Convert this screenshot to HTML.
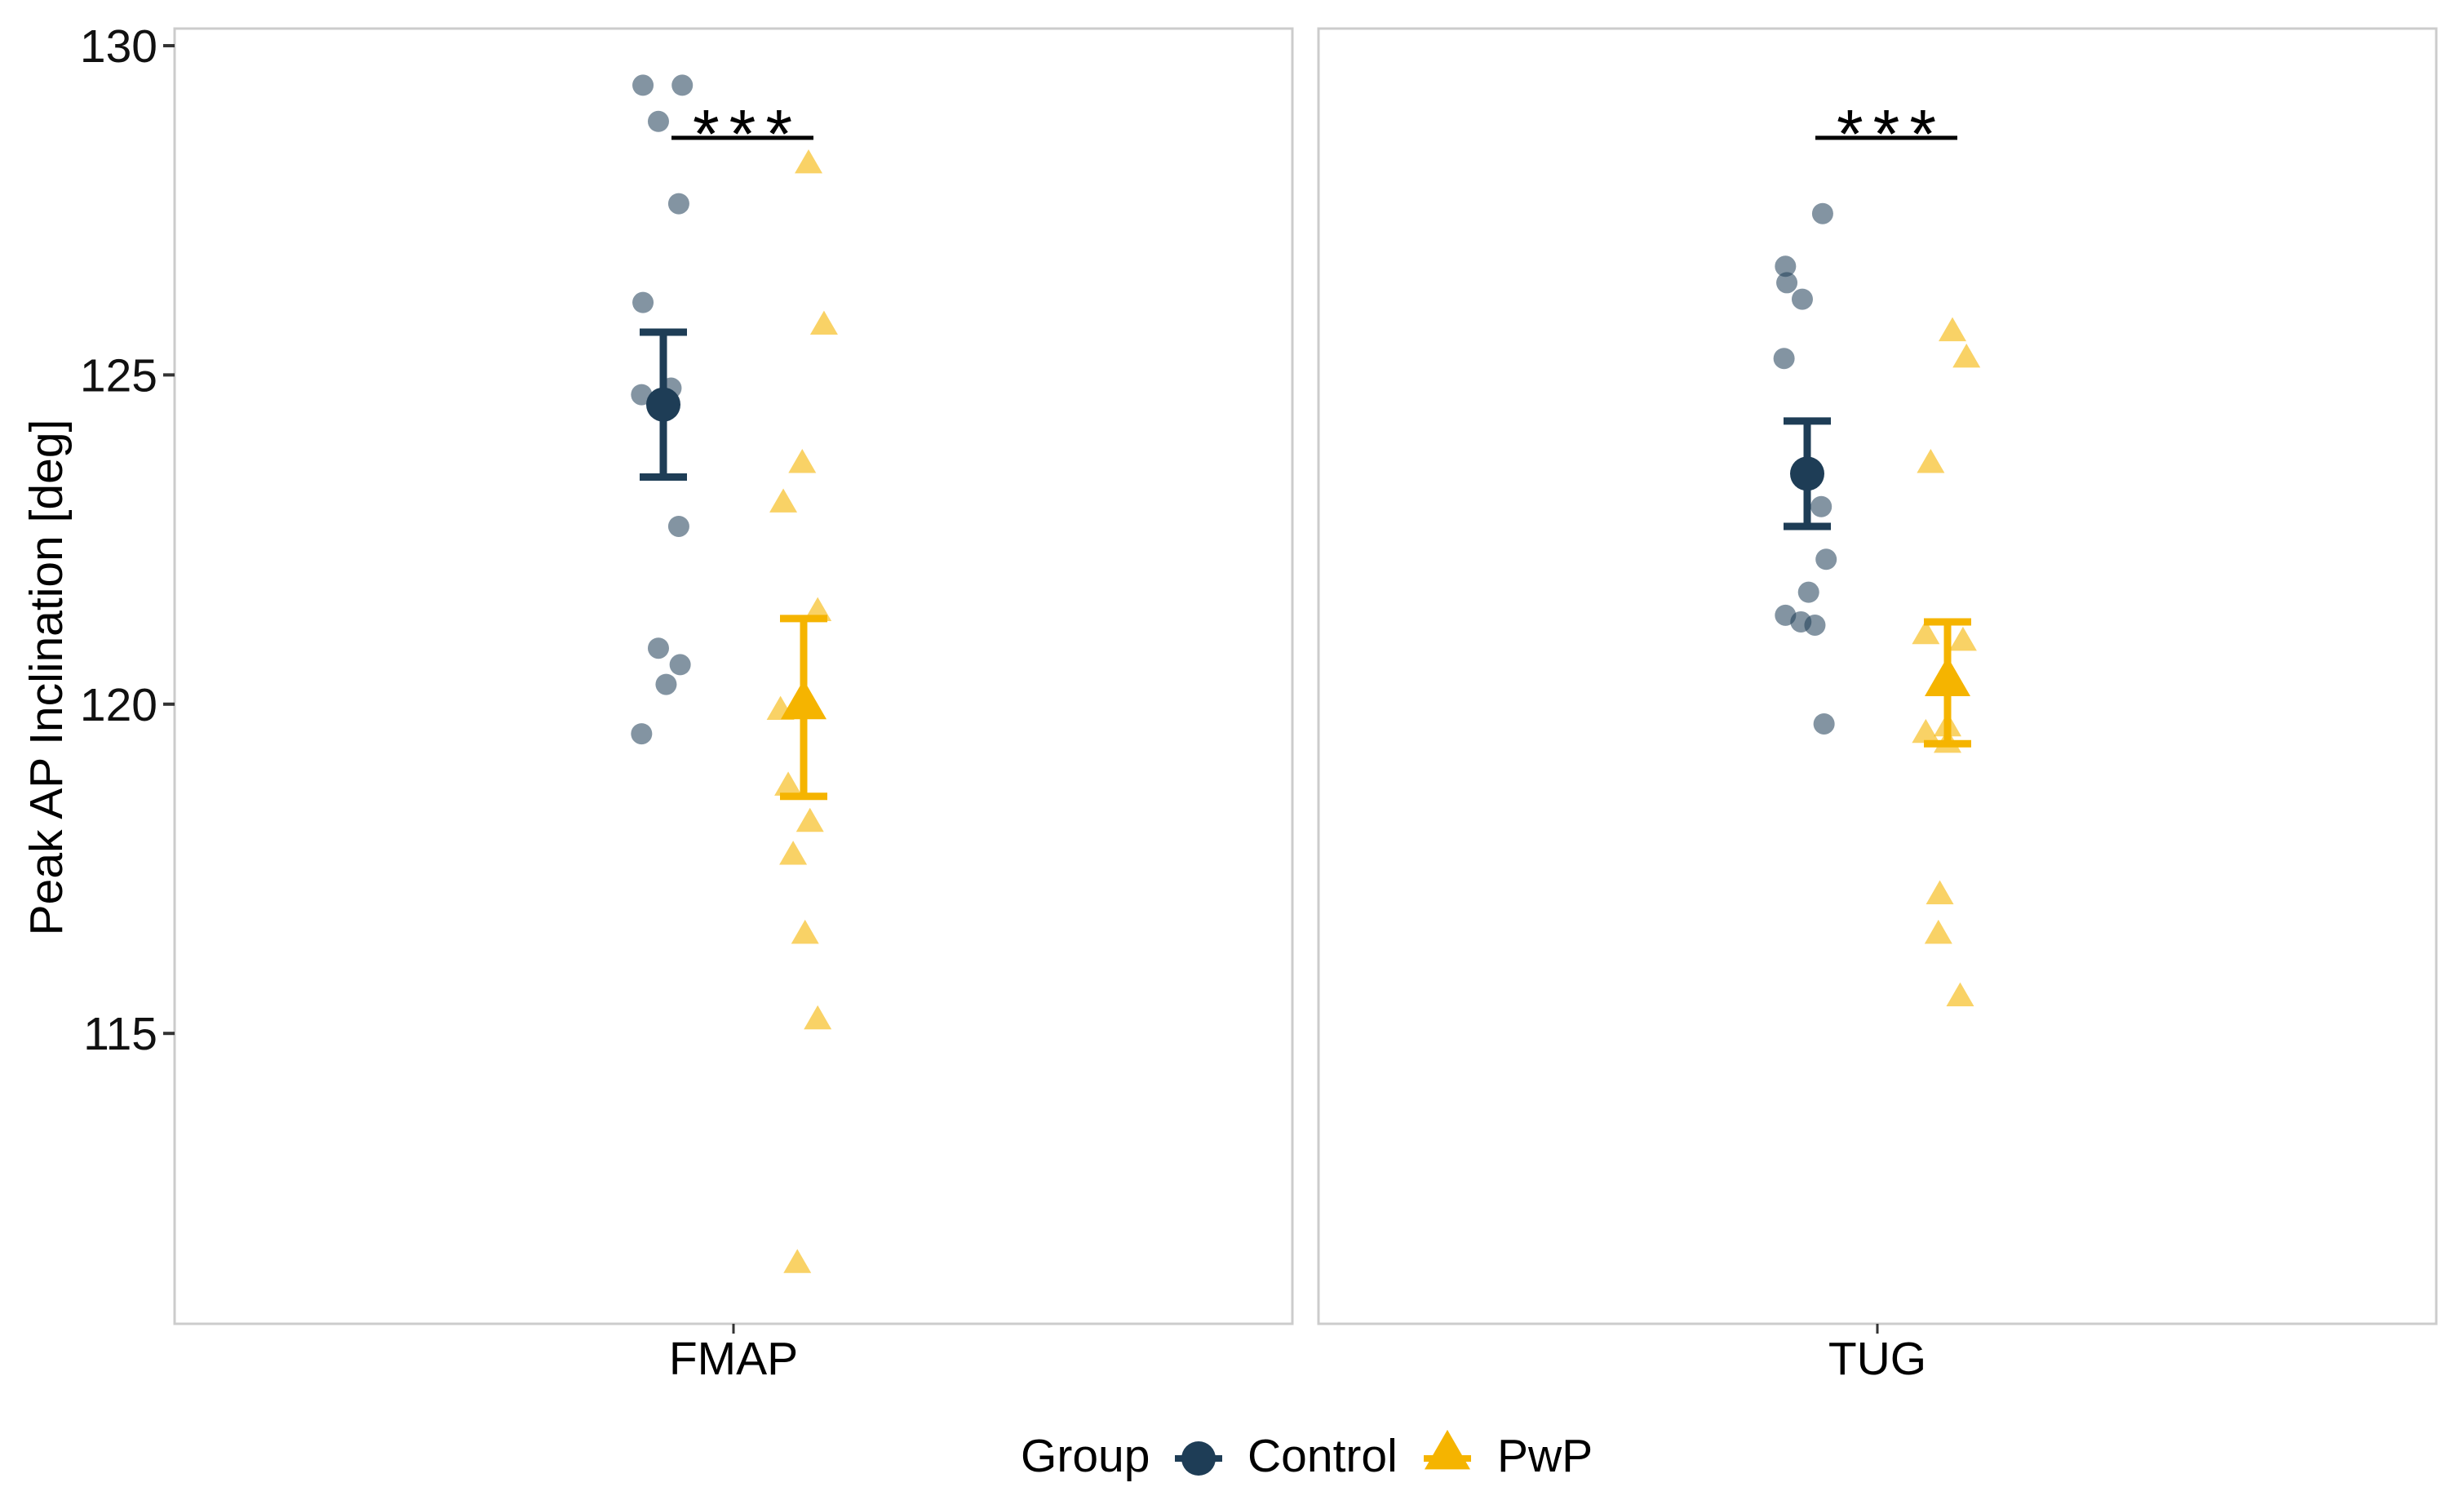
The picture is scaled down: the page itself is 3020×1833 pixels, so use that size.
<!DOCTYPE html>
<html><head><meta charset="utf-8"><style>
html,body{margin:0;padding:0;background:#fff;}
svg{display:block;font-family:"Liberation Sans",Arial,sans-serif;}
</style></head><body>
<svg id="chart" width="3020" height="1833" viewBox="0 0 3020 1833"></svg>
<script>
const panels = ["FMAP", "TUG"];
const groups = ["Control", "PwP"];
const yTicks = [115, 120, 125, 130];
const fmapControl = [129.4,129.4,128.85,127.6,126.1,124.7,124.8,122.7,120.85,120.6,120.3,119.55];
const fmapPwP = [128.2,125.75,123.65,123.05,121.4,119.9,118.75,118.2,117.7,116.5,115.2,111.5];
const tugControl = [127.45,126.65,126.4,126.15,125.25,123.0,122.2,121.7,121.35,121.25,121.2,119.7];
const tugPwP = [125.65,125.25,123.65,121.05,120.95,119.55,119.65,119.4,117.1,116.5,115.55];
const means = [[124.55,120.0],[123.5,120.35]];
const errLow = [[123.45,118.6],[122.7,119.4]];
const errHigh = [[125.65,121.3],[124.3,121.25]];
const sigLabels = ["***","***"];
const sigLevel = [128.6,128.6];
const jitFC = [-0.29,0.27,-0.07,0.22,-0.29,-0.31,0.11,0.22,-0.07,0.24,0.04,-0.31];
const jitFP = [0.07,0.29,-0.02,-0.29,0.2,-0.33,-0.22,0.09,-0.15,0.02,0.2,-0.09];
const jitTC = [0.22,-0.31,-0.29,-0.07,-0.33,0.2,0.27,0.02,-0.31,-0.09,0.11,0.24];
const jitTP = [0.07,0.27,-0.24,-0.31,0.22,-0.31,0.0,0.0,-0.11,-0.13,0.18];

const NS="http://www.w3.org/2000/svg";
const svg=document.getElementById('chart');
const panelX=[214,1616], panelW=1370, topY=35, bottomY=1622;
const yMin=110.59, yMax=130.26;
function yS(v){return bottomY-(v-yMin)/(yMax-yMin)*(bottomY-topY);}
const dodge=86;
function gx(p,g){return panelX[p]+panelW/2+(g===0?-dodge:dodge);}
function mk(tag,attrs){const e=document.createElementNS(NS,tag);for(const k in attrs)e.setAttribute(k,attrs[k]);svg.appendChild(e);return e;}
const navy="#1e3d56", gold="#f5b400";
function tri(cx,cy,s){const h=s*0.866;return `${cx},${cy-h*0.62} ${cx-s/2},${cy+h*0.38} ${cx+s/2},${cy+h*0.38}`;}

panels.forEach((name,p)=>{
  let r=mk('rect',{x:panelX[p],y:topY,width:panelW,height:bottomY-topY,fill:'#fff',stroke:'#cccccc','stroke-width':3});
  
  
  let t=mk('line',{x1:panelX[p]+panelW/2,x2:panelX[p]+panelW/2,y1:bottomY,y2:bottomY+12,stroke:'#333','stroke-width':3});
  
  
  let l=mk('text',{x:panelX[p]+panelW/2,y:1684,'font-size':57,'text-anchor':'middle',fill:'#000'});
  l.textContent=name;
  
  
});
yTicks.forEach(v=>{
  let t=mk('line',{x1:200,x2:214,y1:yS(v),y2:yS(v),stroke:'#333','stroke-width':4});
  
  
  let l=mk('text',{x:193,y:yS(v)+20,'font-size':57,'text-anchor':'end',fill:'#111'});
  l.textContent=v;
  
  
});
let yt=mk('text',{x:0,y:0,'font-size':57,'text-anchor':'middle',fill:'#000',transform:'translate(76,830) rotate(-90)'});
yt.textContent='Peak AP Inclination [deg]';



const pts=[[fmapControl,jitFC,0,0],[fmapPwP,jitFP,0,1],[tugControl,jitTC,1,0],[tugPwP,jitTP,1,1]];
pts.forEach(([vals,jit,p,g])=>{
  vals.forEach((v,i)=>{
    const cx=gx(p,g)+jit[i]*dodge, cy=yS(v);
    let e;
    if(g===0) e=mk('circle',{cx:cx,cy:cy,r:13,fill:navy,'fill-opacity':0.55});
    else e=mk('polygon',{points:tri(cx,cy,34),fill:gold,'fill-opacity':0.6});
    
    
  });
});
panels.forEach((name,p)=>{
  groups.forEach((gn,g)=>{
    const c=g===0?navy:gold, x=gx(p,g);
    let b=mk('path',{d:`M${x-29},${yS(errHigh[p][g])}H${x+29}M${x},${yS(errHigh[p][g])}V${yS(errLow[p][g])}M${x-29},${yS(errLow[p][g])}H${x+29}`,stroke:c,'stroke-width':9,fill:'none'});
    
    
    let m;
    if(g===0) m=mk('circle',{cx:x,cy:yS(means[p][g]),r:21,fill:c});
    else m=mk('polygon',{points:tri(x,yS(means[p][g]),56),fill:c});
    
    
  });
  const x1=gx(p,0)+10,x2=gx(p,1)+12,sy=yS(sigLevel[p]);
  let sl=mk('line',{x1:x1,x2:x2,y1:sy,y2:sy,stroke:'#000','stroke-width':5});
  
  
  let st=mk('text',{x:(x1+x2)/2+6,y:sy+24,'font-size':84,'text-anchor':'middle',fill:'#000','letter-spacing':12});
  st.textContent=sigLabels[p];
  
  
});
let lg=mk('text',{x:1251,y:1803,'font-size':57,fill:'#000'});lg.textContent='Group';


let lc1=mk('line',{x1:1440,x2:1498,y1:1787,y2:1787,stroke:navy,'stroke-width':8});


let lc=mk('circle',{cx:1469,cy:1787,r:21,fill:navy});


let lt=mk('text',{x:1529,y:1803,'font-size':57,fill:'#000'});lt.textContent='Control';


let lp1=mk('line',{x1:1745,x2:1803,y1:1787,y2:1787,stroke:gold,'stroke-width':8});


let lp=mk('polygon',{points:tri(1774,1782,56),fill:gold});


let lpt=mk('text',{x:1835,y:1803,'font-size':57,fill:'#000'});lpt.textContent='PwP';


</script>
</body></html>
